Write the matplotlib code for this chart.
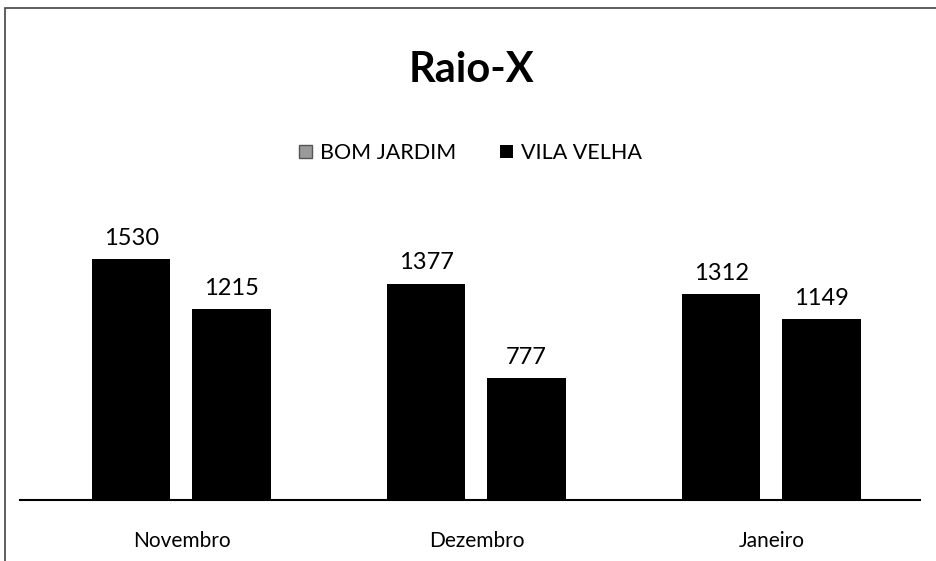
import numpy as np
import matplotlib.pyplot as plt
from matplotlib.patches import Rectangle, Patch

plt.rcParams['font.family'] = ['Lato', 'DejaVu Sans']

meses = ["Novembro", "Dezembro", "Janeiro"]
bom_jardim = [1530, 1377, 1312]
vila_velha = [1215, 777, 1149]

fig = plt.figure(figsize=(9.37, 5.61), dpi=100)
ax = fig.add_axes([20/937, 1-500/561, 900/937, 283/561])

x = np.arange(len(meses))
w = 0.265
b1 = ax.bar(x - 0.172, bom_jardim, w, color="black")
b2 = ax.bar(x + 0.168, vila_velha, w, color="black")

for bars in (b1, b2):
    for r in bars:
        ax.text(r.get_x() + r.get_width()/2, r.get_height() + 65, str(int(r.get_height())),
                ha="center", va="bottom", fontsize=17)

ax.set_xlim(-0.549, 2.502)
ax.set_ylim(0, 1800)
ax.set_xticks(x)
ax.set_xticklabels(meses, fontsize=15)
ax.tick_params(axis="x", length=0, pad=22)
ax.set_yticks([])
for s in ["top", "right", "left"]:
    ax.spines[s].set_visible(False)
ax.spines["bottom"].set_linewidth(1.5)

fig.text(0.503, 1-70/561, "Raio-X", ha="center", va="center", fontsize=30, fontweight="bold")

handles = [Patch(facecolor="#9a9a9a", edgecolor="#555555"), Patch(facecolor="black")]
fig.legend(handles, ["BOM JARDIM", "VILA VELHA"], loc="center", bbox_to_anchor=(0.502, 1-153/561),
           ncol=2, frameon=False, fontsize=15.5, handlelength=0.6, handleheight=0.6,
           columnspacing=2.0, handletextpad=0.4)

fig.patches.append(Rectangle((5/937, -0.1), 1.1, 1-8/561 + 0.1, transform=fig.transFigure,
                             fill=False, edgecolor="#444444", linewidth=1.2))

fig.savefig("out.png", dpi=100)
